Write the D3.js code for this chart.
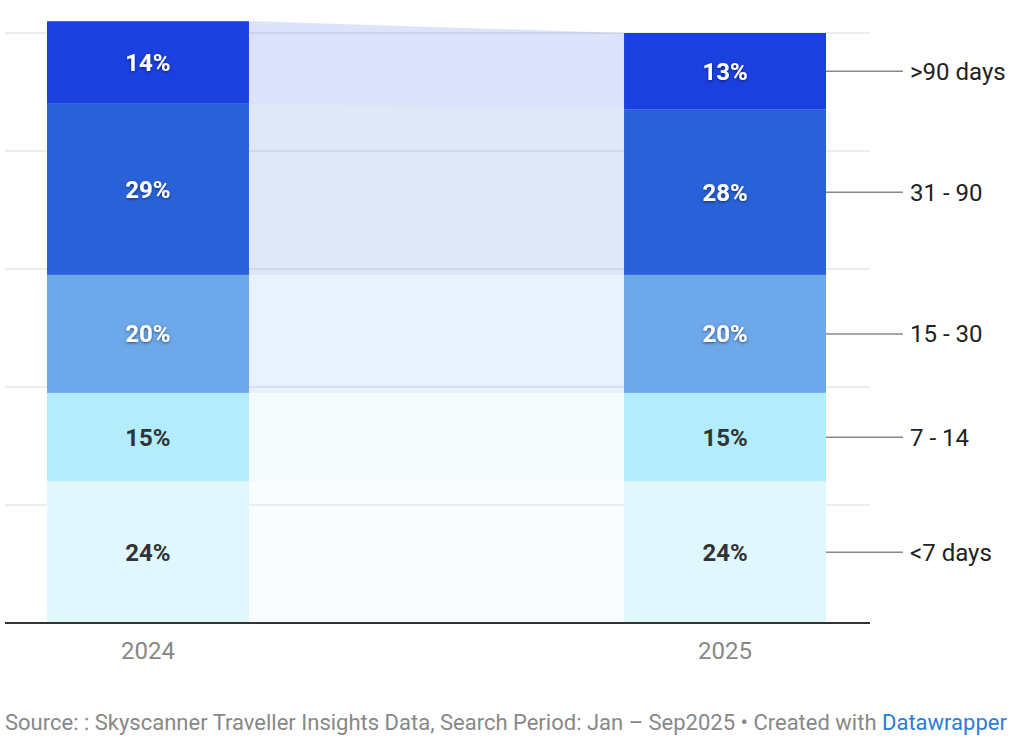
<!DOCTYPE html>
<html>
<head>
<meta charset="utf-8">
<script src="https://cdn.jsdelivr.net/npm/d3@7"></script>
<style>
  body { margin: 0; background: #fff; font-family: Roboto, "Noto Sans", sans-serif; }
</style>
</head>
<body>
<div id="chart"></div>
<script>
// --- data ---
const years = ["2024", "2025"];
const groups = ["<7 days", "7 - 14", "15 - 30", "31 - 90", ">90 days"];
const values2024 = [24, 15, 20, 29, 14];
const values2025 = [24, 15, 20, 28, 13];
const colors = ["#dff7fd", "#b3ecfb", "#6ca8ea", "#2962d8", "#1b40e0"];
const labelDark = [true, true, false, false, false];
const yTicks = [0, 20, 40, 60, 80, 100];

const width = 1024, height = 752;
const svg = d3.select("#chart").append("svg").attr("width", width).attr("height", height);

const defs = svg.append("defs");
const sh = defs.append("filter").attr("id", "shadow").attr("x", "-20%").attr("y", "-40%").attr("width", "140%").attr("height", "180%");
sh.append("feDropShadow").attr("dx", 0).attr("dy", 1).attr("stdDeviation", 1.5)
  .attr("flood-color", "#000").attr("flood-opacity", 0.55);

const y = d3.scaleLinear().domain([0, 100]).range([623, 33]);
const x = d3.scaleBand().domain(years).range([47, 826]).paddingInner(0.65).paddingOuter(0);

// stacked series
const rows = years.map((yr, i) => {
  const o = { year: yr };
  groups.forEach((g, j) => { o[g] = (i === 0 ? values2024 : values2025)[j]; });
  return o;
});
const stack = d3.stack().keys(groups)(rows);

// gridlines
svg.append("g").selectAll("line").data(yTicks.slice(1)).join("line")
  .attr("x1", 5).attr("x2", 870)
  .attr("y1", d => y(d)).attr("y2", d => y(d))
  .attr("stroke", "#e6e6e6").attr("stroke-width", 1.5);

// connecting areas
const bw = x.bandwidth();
svg.append("g").selectAll("path").data(stack).join("path")
  .attr("d", s => {
    const x0 = x(years[0]) + bw, x1 = x(years[1]);
    return `M${x0},${y(s[0][1])}L${x1},${y(s[1][1])}L${x1},${y(s[1][0])}L${x0},${y(s[0][0])}Z`;
  })
  .attr("fill", (s, i) => colors[i])
  .attr("fill-opacity", (s, i) => [0.2, 0.15, 0.15, 0.15, 0.15][i]);

// bars
const barG = svg.append("g");
stack.forEach((s, i) => {
  barG.selectAll(null).data(s).join("rect")
    .attr("x", d => x(d.data.year))
    .attr("width", bw)
    .attr("y", d => y(d[1]))
    .attr("height", d => y(d[0]) - y(d[1]))
    .attr("fill", colors[i]);
});

// bar labels
stack.forEach((s, i) => {
  svg.append("g").selectAll("text").data(s).join("text")
    .attr("x", d => x(d.data.year) + bw / 2)
    .attr("y", d => (y(d[0]) + y(d[1])) / 2)
    .attr("dy", "0.35em")
    .attr("text-anchor", "middle")
    .attr("font-size", 24).attr("font-weight", 700)
    .attr("fill", labelDark[i] ? "#333" : "#fff")
    .attr("filter", labelDark[i] ? null : "url(#shadow)")
    .text(d => (d[1] - d[0]) + "%");
});

// baseline
svg.append("line").attr("x1", 5).attr("x2", 870).attr("y1", y(0)).attr("y2", y(0))
  .attr("stroke", "#333").attr("stroke-width", 2);

// x axis labels
svg.append("g").selectAll("text").data(years).join("text")
  .attr("x", d => x(d) + bw / 2).attr("y", 651).attr("dy", "0.35em")
  .attr("text-anchor", "middle").attr("font-size", 24).attr("fill", "#888")
  .text(d => d);

// right side labels
const last = stack.map(s => s[1]);
const lab = svg.append("g");
last.forEach((d, i) => {
  const cy = (y(d[0]) + y(d[1])) / 2;
  lab.append("line").attr("x1", 826).attr("x2", 903).attr("y1", cy).attr("y2", cy)
    .attr("stroke", "#888").attr("stroke-width", 1.5);
  lab.append("text").attr("x", 910).attr("y", cy).attr("dy", "0.35em")
    .attr("font-size", 24).attr("fill", "#222").text(groups[i]);
});

// source
const src = svg.append("text").attr("x", 5).attr("y", 730).attr("font-size", 22).attr("fill", "#888");
src.append("tspan").text("Source: : Skyscanner Traveller Insights Data, Search Period: Jan \u2013 Sep2025 \u2022 Created with ");
src.append("tspan").attr("fill", "#2c7dd3").text("Datawrapper");
</script>
</body>
</html>
